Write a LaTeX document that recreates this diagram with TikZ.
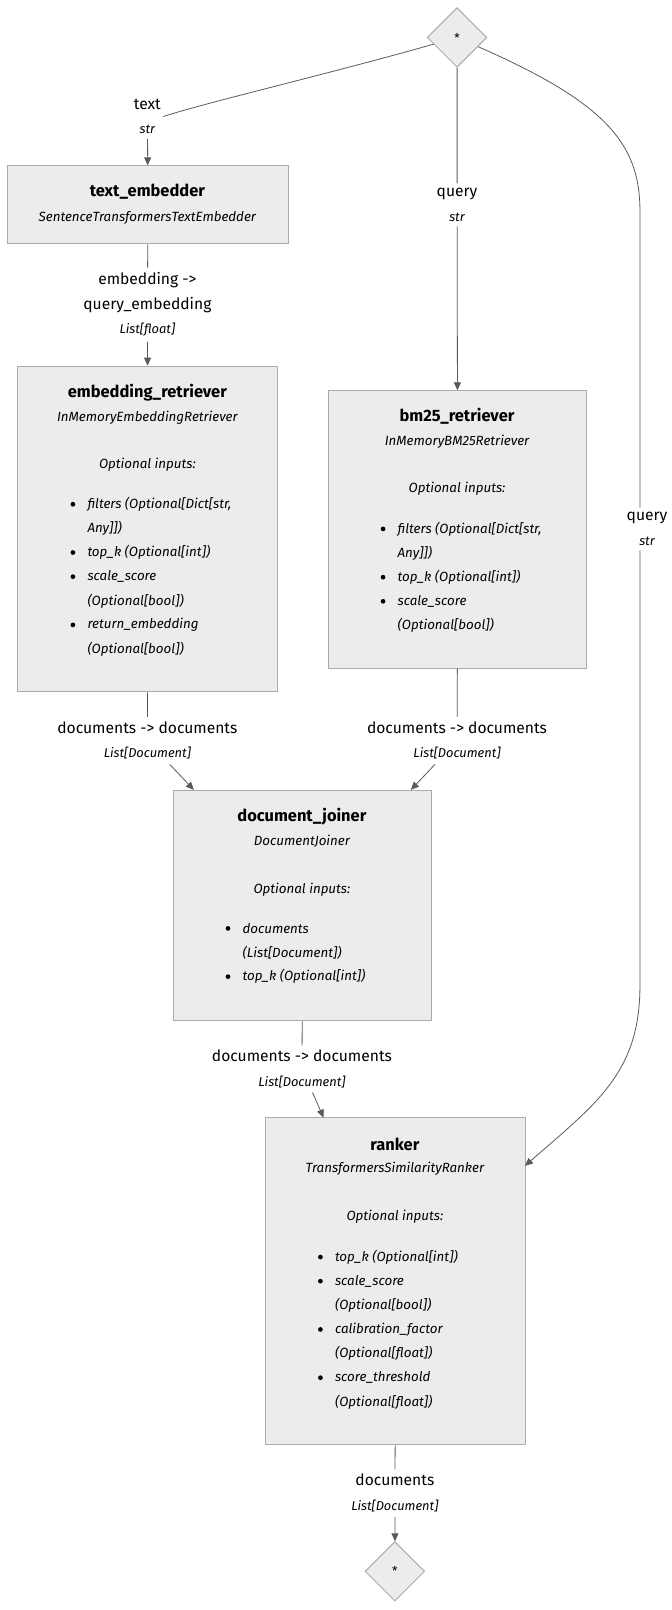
\documentclass[tikz,border=0pt]{standalone}
\usepackage{fontspec}
\setmainfont{Fira Sans}
\usetikzlibrary{shapes.geometric, arrows.meta}

\definecolor{compfill}{HTML}{ECECEC}
\definecolor{compline}{HTML}{ABABAB}
\definecolor{wirecol}{HTML}{5A5A5A}

\newcommand{\ptype}[1]{{\fontsize{12.5}{24}\selectfont\itshape #1}}

\begin{document}
\begin{tikzpicture}[x=1pt, y=-1pt, scale=1.027, transform shape,
		comp/.style={draw=compline, fill=compfill, line width=1pt, inner sep=0pt, anchor=north west},
		io/.style={diamond, aspect=1, draw=compline, fill=compfill, line width=1pt, inner sep=0pt,
			minimum width=58pt, minimum height=58pt, font=\fontsize{12}{14}\selectfont},
		cname/.style={font=\bfseries\fontsize{16}{19}\selectfont, inner sep=0pt},
		cls/.style={font=\itshape\fontsize{13}{15}\selectfont, inner sep=0pt},
		optitem/.style={font=\itshape\fontsize{13}{15}\selectfont, inner sep=0pt, anchor=west},
		lbl/.style={align=center, font=\fontsize{15.2}{24}\selectfont, inner xsep=2pt, inner ysep=4.5pt},
		wire/.style={draw=wirecol, line width=0.8pt},
		feed/.style={wire, -{Triangle[length=8pt, width=7pt]}}]
			\useasboundingbox (0,0) rectangle (653.4,1567.7);
			
			% Pipeline inputs and outputs
			\node[io] (in) at (445,36.5) {*};
			\node[io] (out) at (384.5,1530) {*};
			
			% Components
			\node[comp, minimum width=273pt, minimum height=76pt] (te) at (7,161) {};
			\node[comp, minimum width=253pt, minimum height=317pt] (er) at (17,356) {};
			\node[comp, minimum width=252pt, minimum height=270pt] (bm) at (319,380) {};
			\node[comp, minimum width=252pt, minimum height=224pt] (dj) at (168,769) {};
			\node[comp, minimum width=253pt, minimum height=318pt] (rk) at (258,1088) {};
			
			% Names and classes
			\node[cname] (te-name) at (143.5,187) {text\_embedder};
			\node[cls] (te-cls) at (143.5,212) {SentenceTransformersTextEmbedder};
			\node[cname] (er-name) at (143.5,382) {embedding\_retriever};
			\node[cls] (er-cls) at (143.5,407) {InMemoryEmbeddingRetriever};
			\node[cls] (er-opt) at (143.5,453) {Optional inputs:};
			\node[cname] (bm-name) at (445,405) {bm25\_retriever};
			\node[cls] (bm-cls) at (445,430) {InMemoryBM25Retriever};
			\node[cls] (bm-opt) at (445,476) {Optional inputs:};
			\node[cname] (dj-name) at (294,795) {document\_joiner};
			\node[cls] (dj-cls) at (294,819) {DocumentJoiner};
			\node[cls] (dj-opt) at (294,866) {Optional inputs:};
			\node[cname] (rk-name) at (384.5,1114) {ranker};
			\node[cls] (rk-cls) at (384.5,1138) {TransformersSimilarityRanker};
			\node[cls] (rk-opt) at (384.5,1185) {Optional inputs:};
			
			% Optional inputs of each component
			\foreach \isb/\itm [count=\i] in {{1/filters (Optional[Dict[str,}, {0/Any]])}, {1/top\_k (Optional[int])},
				{1/scale\_score}, {0/(Optional[bool])}, {1/return\_embedding}, {0/(Optional[bool])}} {
				\node[optitem] (er-in\i) at (85,{467.5+23.5*\i}) {\itm};
				\ifnum\isb=1 \fill[black] (71,{467.5+23.5*\i}) circle (2.3pt); \fi
			}
			\foreach \isb/\itm [count=\i] in {{1/filters (Optional[Dict[str,}, {0/Any]])}, {1/top\_k (Optional[int])},
				{1/scale\_score}, {0/(Optional[bool])}} {
				\node[optitem] (bm-in\i) at (387,{491.5+23.5*\i}) {\itm};
				\ifnum\isb=1 \fill[black] (373,{491.5+23.5*\i}) circle (2.3pt); \fi
			}
			\foreach \isb/\itm [count=\i] in {{1/documents}, {0/(List[Document])}, {1/top\_k (Optional[int])}} {
				\node[optitem] (dj-in\i) at (236,{880.5+23.5*\i}) {\itm};
				\ifnum\isb=1 \fill[black] (222,{880.5+23.5*\i}) circle (2.3pt); \fi
			}
			\foreach \isb/\itm [count=\i] in {{1/top\_k (Optional[int])}, {1/scale\_score}, {0/(Optional[bool])},
				{1/calibration\_factor}, {0/(Optional[float])}, {1/score\_threshold}, {0/(Optional[float])}} {
				\node[optitem] (rk-in\i) at (326,{1200.5+23.5*\i}) {\itm};
				\ifnum\isb=1 \fill[black] (312,{1200.5+23.5*\i}) circle (2.3pt); \fi
			}
			
			% Connection labels
			\node[lbl] (l-text) at (143.5,113.5) {text\\\ptype{str}};
			\node[lbl] (l-query) at (445,199.5) {query\\\ptype{str}};
			\node[lbl] (l-query2) at (630,515) {query\\\ptype{str}};
			\node[lbl] (l-emb) at (143.5,296.5) {embedding ->\\query\_embedding\\\ptype{List[float]}};
			\node[lbl] (l-er) at (143.5,721) {documents -> documents\\\ptype{List[Document]}};
			\node[lbl] (l-bm) at (445,721) {documents -> documents\\\ptype{List[Document]}};
			\node[lbl] (l-dj) at (294,1040.5) {documents -> documents\\\ptype{List[Document]}};
			\node[lbl] (l-rk) at (384.5,1453.5) {documents\\\ptype{List[Document]}};
			
			% Bends of the long query connection
			\coordinate (q-top) at (623,205);
			\coordinate (q-low) at (623,960);
			\coordinate (rk-q) at (511,1135);
			
			% Connections
			\draw[wire] (in) .. controls (320,72) and (200,100) .. (l-text.east);
			\draw[feed] (l-text) -- (te);
			\draw[wire] (in) -- (l-query);
			\draw[feed] (l-query) -- (bm);
			\draw[wire] (in) .. controls (590,100) and (623,140) .. (q-top) -- (q-top |- l-query2.north);
			\draw[feed] (l-query2.south -| q-low) -- (q-low) .. controls (623,1045) and (580,1075) .. (rk-q);
			\draw[wire] (te) -- (l-emb);
			\draw[feed] (l-emb) -- (er);
			\draw[wire] (er) -- (l-er);
			\draw[feed] (l-er) -- (dj);
			\draw[wire] (bm) -- (l-bm);
			\draw[feed] (l-bm) -- (dj);
			\draw[wire] (dj) -- (l-dj);
			\draw[feed] (l-dj) -- (rk);
			\draw[wire] (rk) -- (l-rk);
			\draw[feed] (l-rk) -- (out);
		\end{tikzpicture}
\end{document}
